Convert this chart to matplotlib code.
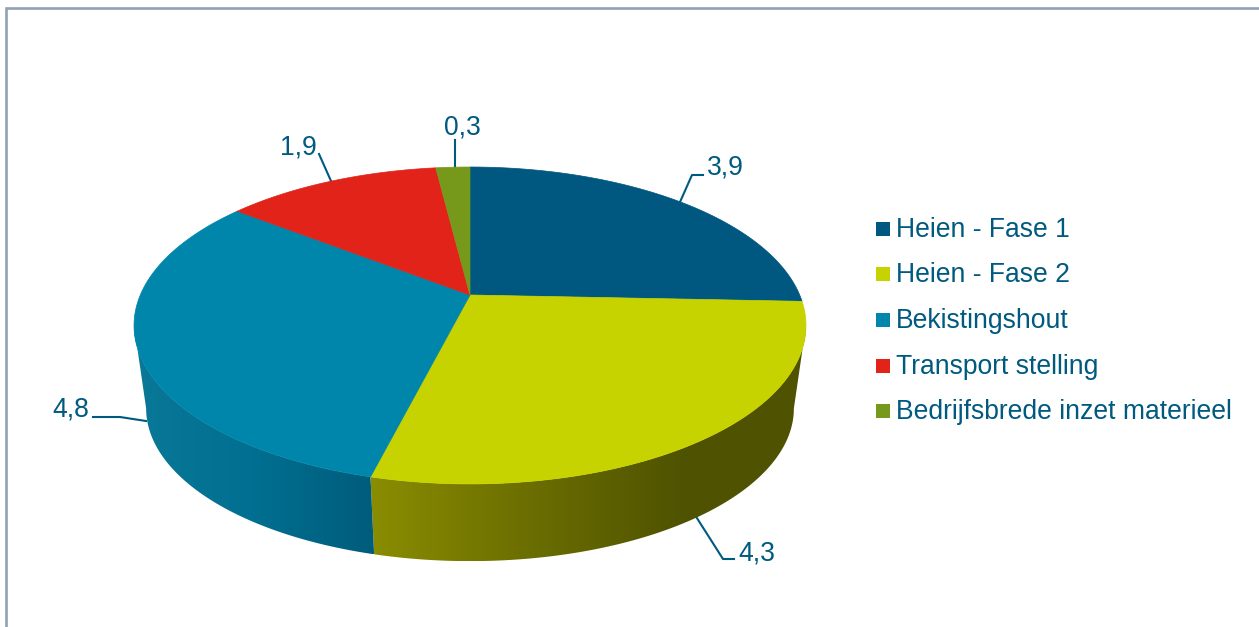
import numpy as np
import matplotlib
matplotlib.use('Agg')
import matplotlib.pyplot as plt
from matplotlib.colors import LinearSegmentedColormap
from matplotlib.patches import Polygon, Rectangle

plt.rcParams['font.family'] = ['Liberation Sans', 'DejaVu Sans']

categories = ['Heien - Fase 1', 'Heien - Fase 2', 'Bekistingshout', 'Transport stelling',
              'Bedrijfsbrede inzet materieel']
values = [3.9, 4.3, 4.8, 1.9, 0.3]
value_labels = ['3,9', '4,3', '4,8', '1,9', '0,3']
colors = ['#00577f', '#c6d300', '#0085ab', '#e2231a', '#76991c']

TEXT_COLOR = '#005a80'
FRAME_COLOR = '#8fa1b5'

# perspective of the pie disc, everything in pixels
CX, CY = 470, 295
RX, RY = 329.7, 152.6
TILT = 0.1923
BOTTOM_CY = 379
BOTTOM_SCALE = 0.964


def project(theta, cy=CY, scale=1.0):
    # theta in degrees, clockwise from the top of the disc
    t = np.radians(theta)
    u, v = np.sin(t), np.cos(t)
    w = 1 + TILT * v
    return CX + scale * RX * u / w, cy - scale * RY * v / w


def arc(start, end, cy=CY, scale=1.0):
    thetas = np.linspace(start, end, 200)
    x, y = project(thetas, cy, scale)
    return np.column_stack([x, y])


def side_wall(ax, start, end, stops):
    # vertical wall under the rim, shaded left to right
    top = arc(start, end)
    bottom = arc(start, end, BOTTOM_CY, BOTTOM_SCALE)
    poly = Polygon(np.vstack([top, bottom[::-1]]), closed=True, fc='none', ec='none')
    ax.add_patch(poly)
    x0 = min(top[:, 0].min(), bottom[:, 0].min())
    x1 = max(top[:, 0].max(), bottom[:, 0].max())
    y0 = top[:, 1].min()
    y1 = bottom[:, 1].max()
    cmap = LinearSegmentedColormap.from_list('wall', stops)
    grad = np.linspace(0, 1, 512).reshape(1, -1)
    im = ax.imshow(grad, extent=(x0, x1, y1, y0), cmap=cmap, aspect='auto', zorder=2)
    im.set_clip_path(poly)


fig = plt.figure(figsize=(12.59, 6.27), dpi=100)
ax = fig.add_axes([0, 0, 1, 1])

# cumulative angles of the slices
angles = np.concatenate([[0], np.cumsum(values)]) / sum(values) * 360

# tangent points of the visible wall
edge = np.degrees(np.arccos(-TILT))
side_wall(ax, edge, angles[2], [(0, '#8a8d00'), (0.35, '#6c6f00'), (0.72, '#4f5200'), (1, '#4f5200')])
side_wall(ax, angles[2], 360 - edge, [(0, '#0a7897'), (0.5, '#006f91'), (1, '#005c7b')])

# top of the disc
for i, color in enumerate(colors):
    rim = arc(angles[i], angles[i + 1])
    pts = np.vstack([[CX, CY], rim])
    ax.add_patch(Polygon(pts, closed=True, fc=color, ec=color, lw=0.5, zorder=3))

# leader lines and value labels
leaders = [
    ([680, 692, 703], [202, 175, 175]),
    ([695, 723, 734], [515, 559, 559]),
    ([93, 120, 146], [417, 417, 421]),
    ([319, 331], [154, 181]),
    ([455, 455], [140, 167]),
]
label_pos = [(707, 175), (738, 560), (52, 416), (280, 154), (444, 134)]
for (lx, ly), (tx, ty), text in zip(leaders, label_pos, value_labels):
    ax.plot(lx, ly, color=TEXT_COLOR, lw=1.5, zorder=1, solid_joinstyle='round')
    ax.text(tx, ty, text, color=TEXT_COLOR, fontsize=19.1, ha='left', va='baseline')

# legend
legend_rows = [229, 274, 320, 366, 411]
for row, name, color in zip(legend_rows, categories, colors):
    ax.add_patch(Rectangle((876, row - 7), 14, 14, fc=color, ec='none'))
    ax.text(896, row + 8, name, color=TEXT_COLOR, fontsize=19.1, ha='left', va='baseline')

# chart frame, only the top and left edges fall inside the canvas
ax.plot([6.5, 6.5, 1259], [627, 7.5, 7.5], color=FRAME_COLOR, lw=1.9, solid_joinstyle='miter')

ax.set_xlim(0, 1259)
ax.set_ylim(627, 0)
ax.axis('off')

fig.savefig('out.png', dpi=100)
